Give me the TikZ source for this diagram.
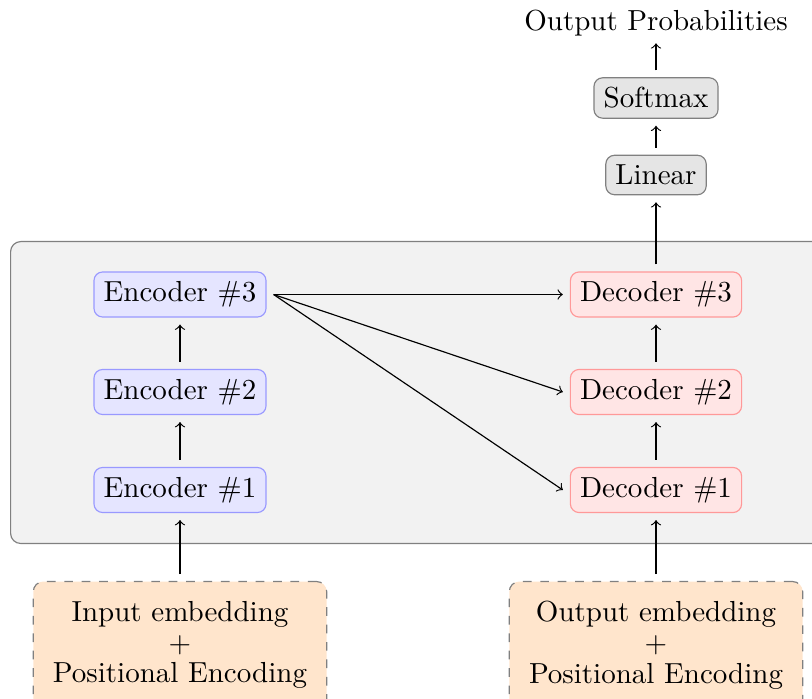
\documentclass[tikz,border=0pt]{standalone}
\begin{document}
\begin{tikzpicture}[x=0.3448pt,y=-0.3448pt,
  box/.style={rounded corners=3pt, inner sep=3.33pt, outer sep=2.6pt, font=\fontsize{10}{12}\selectfont},
  enc/.style={box, draw=blue!40, fill=blue!10},
  dec/.style={box, draw=red!40, fill=red!10},
  head/.style={box, draw=black!50, fill=black!10},
  plain/.style={inner sep=0pt, outer sep=2.6pt, font=\fontsize{10}{12}\selectfont},
  emb/.style={rounded corners=3.5pt, draw=black!50, dashed, fill=orange!20, align=center,
    inner sep=6.8pt, minimum width=101pt, outer sep=2.6pt, font=\fontsize{10}{10.6}\selectfont},
  stackbox/.style={rounded corners=3.5pt, draw=black!50, fill=black!5, inner sep=0pt,
    minimum width=282.7pt, minimum height=104.1pt},
  arr/.style={->}]
\useasboundingbox (0,0) rectangle (812,698);
\clip (0,0) rectangle (812,698);
\node[stackbox, anchor=north west] (stack) at (10,241) {};
\node[plain] (prob) at (656,22.7) {Output Probabilities};
\node[head] (soft) at (656,98) {Softmax};
\node[head] (lin) at (656,175) {Linear};
\node[enc] (e3) at (180,294.5) {Encoder \#3};
\node[enc] (e2) at (180,392) {Encoder \#2};
\node[enc] (e1) at (180,490) {Encoder \#1};
\node[dec] (d3) at (656,294.5) {Decoder \#3};
\node[dec] (d2) at (656,392) {Decoder \#2};
\node[dec] (d1) at (656,490) {Decoder \#1};
\node[emb, anchor=north] (inemb) at (180,574) {Input embedding\\+\\Positional Encoding};
\node[emb, anchor=north] (outemb) at (656,574) {Output embedding\\+\\Positional Encoding};
\draw[arr] (inemb.north) -- (e1.south);
\draw[arr] (e1.north) -- (e2.south);
\draw[arr] (e2.north) -- (e3.south);
\draw[arr] (outemb.north) -- (d1.south);
\draw[arr] (d1.north) -- (d2.south);
\draw[arr] (d2.north) -- (d3.south);
\draw[arr] (d3.north) -- (lin.south);
\draw[arr] (lin.north) -- (soft.south);
\draw[arr] (soft.north) -- (prob.south);
\draw[arr] (e3.east) -- (d3.west);
\draw[arr] (e3.east) -- (d2.west);
\draw[arr] (e3.east) -- (d1.west);
\end{tikzpicture}
\end{document}
